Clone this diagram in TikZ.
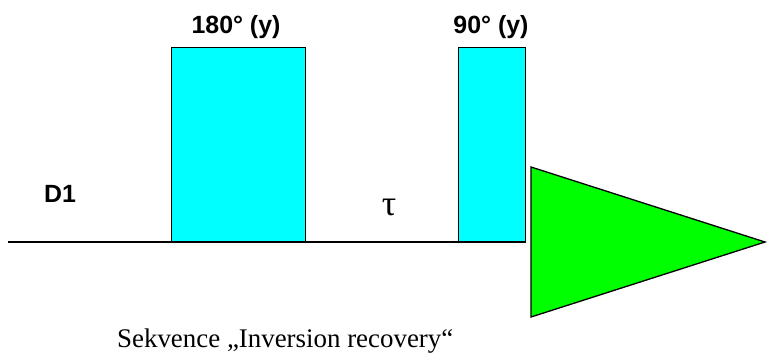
\documentclass[tikz,border=0pt]{standalone}
\usepackage{fontspec}
\setmainfont{Liberation Serif}
\setsansfont{Liberation Sans}
\usetikzlibrary{positioning}
\definecolor{pulsecyan}{RGB}{0,255,255}
\definecolor{fidgreen}{RGB}{0,255,0}

\begin{document}
\begin{tikzpicture}[x=1bp, y=-1bp,
                    pulse/.style={rectangle, draw, line width=1.3bp, fill=pulsecyan, inner sep=0pt, anchor=south west},
                    lbl/.style={font=\sffamily\bfseries\fontsize{25}{28}\selectfont, inner sep=0pt}]
            \useasboundingbox (0,0) rectangle (767,356);

            % baseline
            \coordinate (start) at (8,242);
            \node[pulse, minimum width=134bp, minimum height=194bp] (p180) at (171,242) {};
            \node[pulse, minimum width=67bp, minimum height=194bp] (p90) at (458,242) {};
            \draw[line width=1.8bp] (start) -- (p90.south east);

            % FID
            \coordinate (fidtop) at (531,167);
            \coordinate (fidtip) at (765,242);
            \coordinate (fidbot) at (531,317);
            \draw[line width=1.3bp, fill=fidgreen, line join=miter] (fidtop) -- (fidtip) -- (fidbot) -- cycle;

            % labels
            \node[lbl, anchor=base] (l180) at (236,33) {180° (y)};
            \node[lbl, anchor=base] (l90) at (491,33) {90° (y)};
            \node[lbl, anchor=base] (d1) at (60,202) {D1};
            \node[font=\fontsize{36}{40}\selectfont, inner sep=0pt, anchor=base] (tau) at (389,215) {τ};

            \node[anchor=base west, font=\fontsize{27}{30}\selectfont, inner sep=0pt] (caption) at (117,347) {Sekvence „Inversion recovery“};
        \end{tikzpicture}
\end{document}
